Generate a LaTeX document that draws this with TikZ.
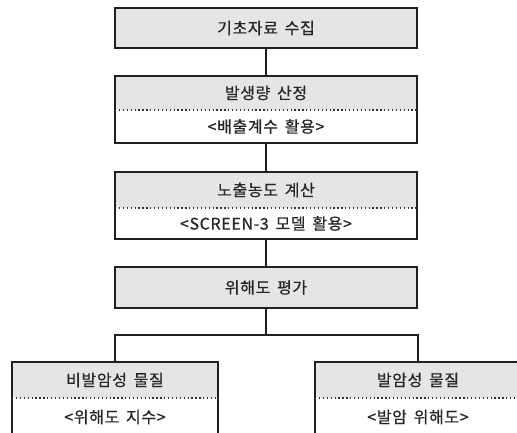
\documentclass[tikz,border=0pt]{standalone}
\usepackage{fontspec}
\setmainfont{Noto Sans CJK KR}[FakeBold=0.6,LetterSpace=4,WordSpace=1.6]
\begin{document}
\begin{tikzpicture}[x=1pt,y=-1pt,
  every node/.style={inner sep=0pt,outer sep=0pt,font=\fontsize{16}{18}\selectfont,text=black!85},
  hdr/.style={fill=black!10,minimum width=302pt},
  low/.style={fill=white,minimum width=302pt},
  bhdr/.style={fill=black!10,minimum width=206pt,minimum height=36pt},
  blow/.style={fill=white,minimum width=206pt,minimum height=38pt},
  border/.style={draw=black!88,line width=1.6pt},
  dots/.style={draw=black!80,line width=1.3pt,dash pattern=on 1.3pt off 2.6pt},
  conn/.style={draw=black!88,line width=1.5pt}]
\useasboundingbox (0,0) rectangle (517,433);
\clip (0,0) rectangle (517,433);
% box 1
\node[hdr,minimum height=40pt] (n1) at (266,28) {기초자료 수집};
\draw[border] (n1.north west) rectangle (n1.south east);
% box 2
\node[hdr,minimum height=34pt] (n2h) at (266,93) {발생량 산정};
\node[low,minimum height=33pt] (n2l) at (266,126.5) {<배출계수 활용>};
\draw[border] (n2h.north west) rectangle (n2l.south east);
\draw[dots] (n2h.south west) -- (n2h.south east);
% box 3
\node[hdr,minimum height=36pt] (n3h) at (266,190) {노출농도 계산};
\node[low,minimum height=31pt] (n3l) at (266,223.5) {<SCREEN-3 모델 활용>};
\draw[border] (n3h.north west) rectangle (n3l.south east);
\draw[dots] (n3h.south west) -- (n3h.south east);
% box 4
\node[hdr,minimum height=41pt] (n4) at (266,287.5) {위해도 평가};
\draw[border] (n4.north west) rectangle (n4.south east);
% bottom left
\node[bhdr] (blh) at (115,380) {비발암성 물질};
\node[blow] (bll) at (115,417) {<위해도 지수>};
\draw[border] (blh.north west) rectangle (bll.south east);
\draw[dots] (blh.south west) -- (blh.south east);
% bottom right
\node[bhdr] (brh) at (418,380) {발암성 물질};
\node[blow] (brl) at (418,417) {<발암 위해도>};
\draw[border] (brh.north west) rectangle (brl.south east);
\draw[dots] (brh.south west) -- (brh.south east);
% connectors
\coordinate (j) at (266,335);
\draw[conn] (n1.south) -- (n2h.north);
\draw[conn] (n2l.south) -- (n3h.north);
\draw[conn] (n3l.south) -- (n4.north);
\draw[conn] (n4.south) -- (j);
\draw[conn] (blh.north) |- (j) -| (brh.north);
\end{tikzpicture}
\end{document}
